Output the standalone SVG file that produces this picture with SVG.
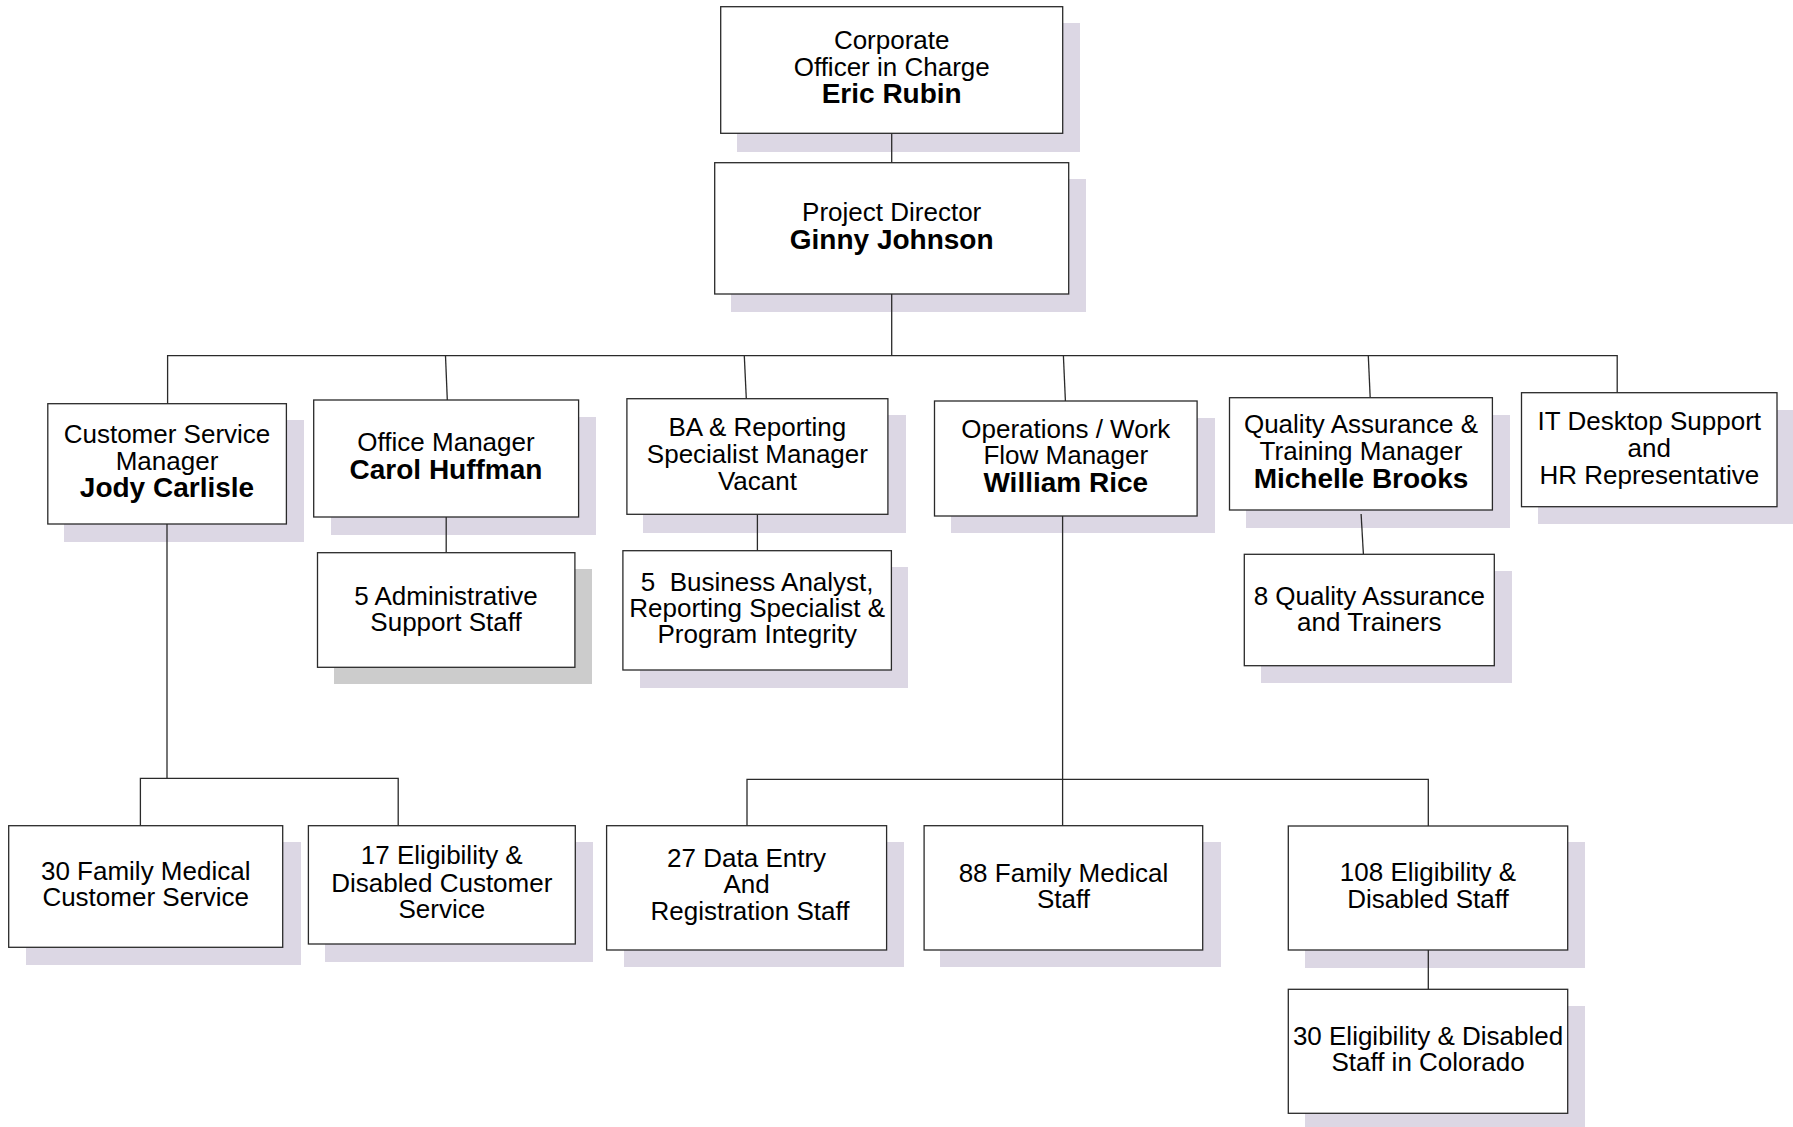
<svg xmlns="http://www.w3.org/2000/svg" width="1793" height="1127" viewBox="0 0 1793 1127">
<style>
.sh{fill:#dcd7e4}
.shg{fill:#cccccc}
.bx{fill:#ffffff;stroke:#2a2a2a;stroke-width:1.3}
.cn{fill:none;stroke:#2a2a2a;stroke-width:1.3}
text{font-family:"Liberation Sans",Arial,sans-serif;font-size:26px;fill:#000;text-anchor:middle}
.b{font-weight:bold;font-size:28px}
</style>
<rect width="1793" height="1127" fill="#ffffff"/>
<g id="shadows">
<rect class="sh" x="737" y="23" width="343" height="129"/>
<rect class="sh" x="731" y="179" width="355" height="133"/>
<rect class="sh" x="64" y="420" width="240" height="122"/>
<rect class="sh" x="331" y="417" width="265" height="118"/>
<rect class="shg" x="334" y="569" width="258" height="115"/>
<rect class="sh" x="643" y="415" width="263" height="118"/>
<rect class="sh" x="640" y="567" width="268" height="121"/>
<rect class="sh" x="951" y="418" width="264" height="115"/>
<rect class="sh" x="1246" y="415" width="264" height="113"/>
<rect class="sh" x="1261" y="571" width="251" height="112"/>
<rect class="sh" x="1538" y="410" width="256" height="114"/>
<rect class="sh" x="26" y="842" width="275" height="123"/>
<rect class="sh" x="325" y="842" width="268" height="120"/>
<rect class="sh" x="624" y="842" width="280" height="125"/>
<rect class="sh" x="940" y="842" width="281" height="125"/>
<rect class="sh" x="1305" y="842" width="280" height="126"/>
<rect class="sh" x="1305" y="1006" width="280" height="121"/>
</g>
<g id="connectors">
<path class="cn" d="M891.7 133 V163"/>
<path class="cn" d="M891.7 294 V355.7"/>
<path class="cn" d="M167.6 404 V355.7 H1617.2 V392.7"/>
<path class="cn" d="M445.5 355.7 L447.3 400"/>
<path class="cn" d="M744.3 355.7 L746.3 398.7"/>
<path class="cn" d="M1063.4 355.7 L1065.4 401"/>
<path class="cn" d="M1368.3 355.7 L1370.2 397.7"/>
<path class="cn" d="M446.2 517 V552.7"/>
<path class="cn" d="M757.4 514.3 V550.7"/>
<path class="cn" d="M1361.1 514 L1363.4 554.3"/>
<path class="cn" d="M167 524 V778.3"/>
<path class="cn" d="M140.4 825.7 V778.3 H398.2 V825.7"/>
<path class="cn" d="M1062.6 516 V825.7"/>
<path class="cn" d="M747 825.7 V779.3 H1428.3 V826"/>
<path class="cn" d="M1428.3 950 V989.3"/>
</g>
<g id="n-corporate">
<rect class="bx" x="720.7" y="6.7" width="342" height="126.6"/>
<text x="891.7" y="49">Corporate</text>
<text x="891.7" y="76">Officer in Charge</text>
<text class="b" x="891.7" y="103.3">Eric Rubin</text>
</g>
<g id="n-director">
<rect class="bx" x="714.7" y="162.7" width="354" height="131.3"/>
<text x="891.7" y="220.5">Project Director</text>
<text class="b" x="891.7" y="248.5">Ginny Johnson</text>
</g>
<g id="n-csm">
<rect class="bx" x="47.8" y="403.7" width="238.6" height="120.3"/>
<text x="167" y="443">Customer Service</text>
<text x="167" y="469.5">Manager</text>
<text class="b" x="167" y="497">Jody Carlisle</text>
</g>
<g id="n-office">
<rect class="bx" x="313.7" y="400" width="264.9" height="117"/>
<text x="446" y="451">Office Manager</text>
<text class="b" x="446" y="479.3">Carol Huffman</text>
</g>
<g id="n-admin">
<rect class="bx" x="317.5" y="552.7" width="257.4" height="114.6"/>
<text x="446" y="604.5">5 Administrative</text>
<text x="446" y="631">Support Staff</text>
</g>
<g id="n-ba">
<rect class="bx" x="626.9" y="398.7" width="261" height="115.6"/>
<text x="757.4" y="436">BA &amp; Reporting</text>
<text x="757.4" y="462.7">Specialist Manager</text>
<text x="757.4" y="489.5">Vacant</text>
</g>
<g id="n-ba-staff">
<rect class="bx" x="622.9" y="550.7" width="268.5" height="119.3"/>
<text x="757.2" y="591" xml:space="preserve">5  Business Analyst,</text>
<text x="757.2" y="617">Reporting Specialist &amp;</text>
<text x="757.2" y="642.7">Program Integrity</text>
</g>
<g id="n-ops">
<rect class="bx" x="934.5" y="401" width="262.6" height="115"/>
<text x="1065.8" y="437.7">Operations / Work</text>
<text x="1065.8" y="464.3">Flow Manager</text>
<text class="b" x="1065.8" y="492">William Rice</text>
</g>
<g id="n-qa">
<rect class="bx" x="1229.5" y="397.7" width="262.9" height="112.3"/>
<text x="1361" y="432.7">Quality Assurance &amp;</text>
<text x="1361" y="459.5">Training Manager</text>
<text class="b" x="1361" y="487.7">Michelle Brooks</text>
</g>
<g id="n-qa-staff">
<rect class="bx" x="1244.3" y="554.3" width="250" height="111.4"/>
<text x="1369.3" y="604.5">8 Quality Assurance</text>
<text x="1369.3" y="631">and Trainers</text>
</g>
<g id="n-it">
<rect class="bx" x="1521.5" y="392.7" width="255.5" height="114"/>
<text x="1649.3" y="430">IT Desktop Support</text>
<text x="1649.3" y="457">and</text>
<text x="1649.3" y="483.7">HR Representative</text>
</g>
<g id="n-fm-cs">
<rect class="bx" x="8.7" y="825.7" width="274" height="121.6"/>
<text x="145.7" y="880">30 Family Medical</text>
<text x="145.7" y="906">Customer Service</text>
</g>
<g id="n-ed-cs">
<rect class="bx" x="308.4" y="825.7" width="266.9" height="118.3"/>
<text x="441.8" y="864.3">17 Eligibility &amp;</text>
<text x="441.8" y="892">Disabled Customer</text>
<text x="441.8" y="917.7">Service</text>
</g>
<g id="n-data">
<rect class="bx" x="606.6" y="825.7" width="280" height="124.3"/>
<text x="746.6" y="867">27 Data Entry</text>
<text x="746.6" y="893">And</text>
<text x="750" y="919.5">Registration Staff</text>
</g>
<g id="n-fm">
<rect class="bx" x="924.1" y="825.7" width="278.6" height="124.3"/>
<text x="1063.4" y="881.5">88 Family Medical</text>
<text x="1063.4" y="907.5">Staff</text>
</g>
<g id="n-ed">
<rect class="bx" x="1288.3" y="826" width="279.4" height="124"/>
<text x="1428" y="881">108 Eligibility &amp;</text>
<text x="1428" y="907.5">Disabled Staff</text>
</g>
<g id="n-ed-co">
<rect class="bx" x="1288.3" y="989.3" width="279.4" height="124"/>
<text x="1428" y="1045">30 Eligibility &amp; Disabled</text>
<text x="1428" y="1071">Staff in Colorado</text>
</g>
</svg>
